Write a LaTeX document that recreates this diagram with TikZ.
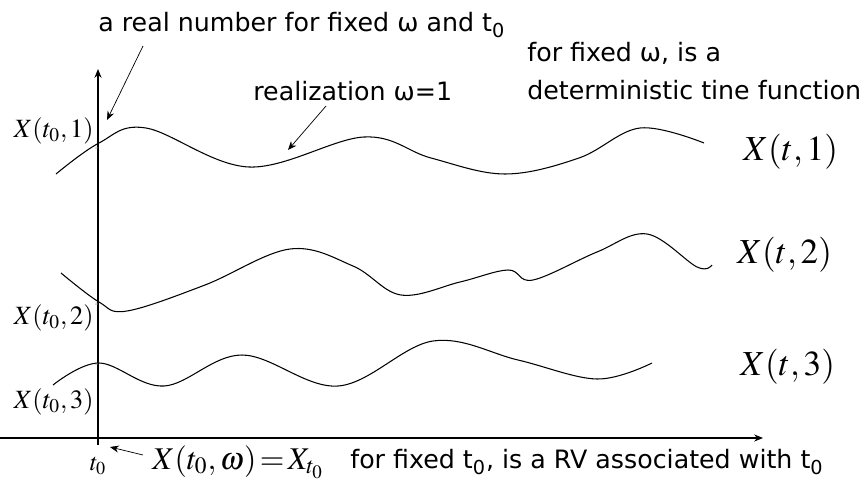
\documentclass[tikz,border=0pt]{standalone}
\usepackage{mathptmx}
\usepackage[no-math]{fontspec}
\setmainfont{DejaVu Sans}
\usetikzlibrary{arrows.meta}

\begin{document}
\begin{tikzpicture}[
  x=0.02cm, y=-0.02cm,
  note/.style={font=\fontsize{14.4}{16}\selectfont, inner sep=0pt, anchor=west},
  lx/.style={font=\fontsize{15}{18}\selectfont, inner sep=0pt, anchor=east},
  rx/.style={font=\fontsize{20}{24}\selectfont, inner sep=0pt, anchor=west},
  wave/.style={line width=0.6pt, smooth, tension=0.6},
  mk/.style={font=\tiny, scale=0.5, text=black!60, inner sep=0pt},
  >={Stealth[length=5pt,width=4pt]}
]
  \useasboundingbox (0,0) rectangle (864,486);

  % axes
  \draw[->, line width=0.6pt] (98,445) -- (98,69);
  \draw[->, line width=0.6pt] (0,438) -- (763,438);

  % realizations
  \draw[wave] plot coordinates {(56,174) (99,143) (146,128) (249,167)
    (364,137) (431,158) (505,174) (579,158) (640,128) (704,143)};
  \draw[wave] plot coordinates {(61,273) (99,302) (127,311) (205,285) (290,249)
    (353,266) (401,295) (460,282) (508,270) (533,280) (597,252) (647,234)
    (697,267) (712,265)};
  \draw[wave] plot coordinates {(53,385) (99,363) (164,386) (242,355) (338,386)
    (433,341) (518,360) (597,379) (652,363)};

  % small marks at t0
  \node[mk] (m1) at (97,148) {$\alpha$};
  \node[mk] (m2) at (97,304) {$\alpha$};
  \node[mk] (m3) at (97,364) {$\alpha$};

  % left values
  \node[lx] (x01) at (94,131) {$X(t_0,1)$};
  \node[lx] (x02) at (94,318) {$X(t_0,2)$};
  \node[lx] (x03) at (94,402) {$X(t_0,3)$};

  % right functions
  \node[rx] (xt1) at (743,152) {$X(t,1)$};
  \node[rx] (xt2) at (737,255) {$X(t,2)$};
  \node[rx] (xt3) at (740,367) {$X(t,3)$};

  % bottom
  \node[font=\fontsize{14}{16}\selectfont, inner sep=0pt] (t0) at (98,466) {$t_0$};
  \node[rx, font=\fontsize{18}{22}\selectfont] (xrv) at (152,462) {$X(t_0,\omega)\!=\!X_{t_0}$};
  \coordinate (t0tip) at (110,447);
  \draw[->] (143,455) -- (t0tip);

  % notes
  \node[note] (real) at (98,25) {a real number for fixed ω and t\textsubscript{0}};
  \coordinate (realtip) at (107,120);
  \draw[->] (143,46) -- (realtip);

  \node[note] (rlz) at (253,91) {realization ω=1};
  \coordinate (rlztip) at (288,150);
  \draw[->] (326,106) -- (rlztip);

  \node[note] (fw1) at (527,53) {for fixed ω, is a};
  \node[note] (fw2) at (527,90) {deterministic tine function};

  \node[note] (ft0) at (350,462) {for fixed t\textsubscript{0}, is a RV associated with t\textsubscript{0}};
\end{tikzpicture}
\end{document}
